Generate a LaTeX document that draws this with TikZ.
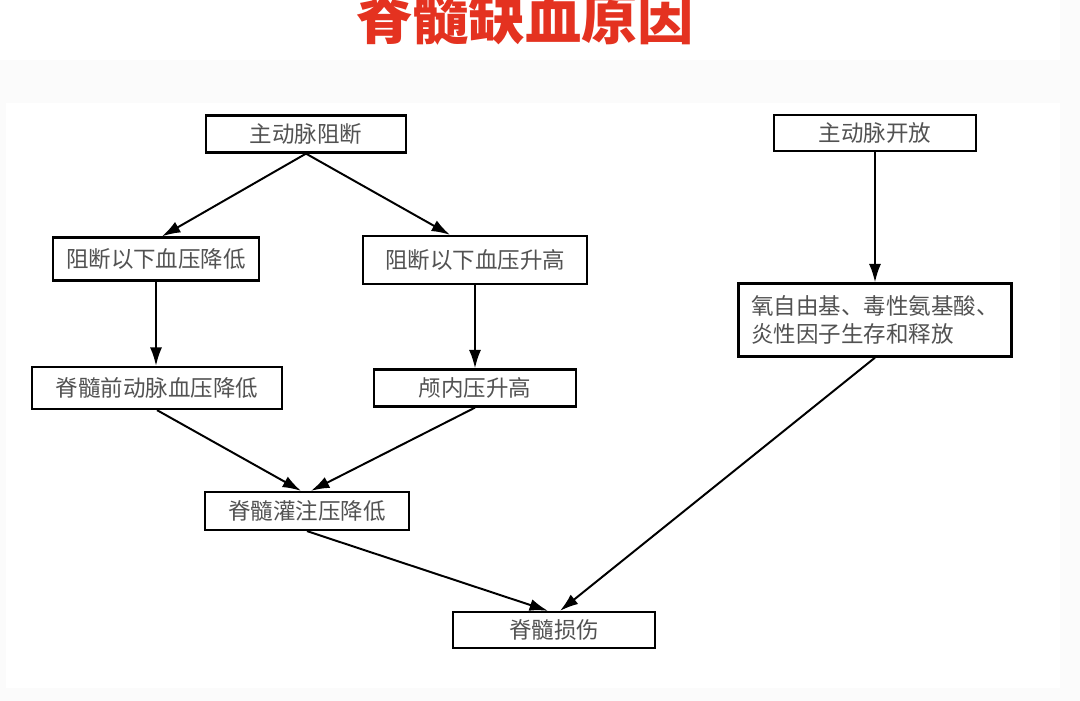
\documentclass[tikz,border=0pt]{standalone}
\usepackage{fontspec}
\setmainfont{Noto Sans CJK SC}
\usetikzlibrary{arrows.meta,positioning,calc}

\definecolor{titlered}{RGB}{228,50,32}

\begin{document}
\begin{tikzpicture}[
  x=0.025cm, y=-0.025cm,
  font=\fontsize{16}{20}\selectfont,
  box/.style={draw, line width=1.6pt, align=center, inner sep=2pt, text=black!68},
  arrow/.style={-{Latex[length=4.6mm,width=3mm]}, line width=1.4pt}
]
% page and background
\useasboundingbox (0,0) rectangle (1080,701);
\fill[gray!3] (0,0) rectangle (1080,701);
\fill[white] (0,0) rectangle (1060,60);
\fill[white] (6,103) rectangle (1060,688);

\node[text=titlered, font=\fontsize{40}{44}\selectfont\bfseries, inner sep=0pt] (title) at (525,18) {脊髓缺血原因};

% left branch
\node[box, minimum width=50mm, minimum height=9.25mm] (clamp) at (306,134) {主动脉阻断};
\node[box, minimum width=51.5mm, minimum height=10.75mm] (lowBelow) at (156,259) {阻断以下血压降低};
\node[box, minimum width=56mm, minimum height=12mm] (highBelow) at (475,260) {阻断以下血压升高};
\node[box, minimum width=62.5mm, minimum height=10.5mm] (artery) at (157,388) {脊髓前动脉血压降低};
\node[box, minimum width=50.5mm, minimum height=9.25mm] (icp) at (475,388) {颅内压升高};
\node[box, minimum width=51mm, minimum height=9.5mm] (perfusion) at (307,511) {脊髓灌注压降低};
\node[box, minimum width=50.5mm, minimum height=9mm] (injury) at (554,630) {脊髓损伤};

% right branch
\node[box, minimum width=50.5mm, minimum height=9mm] (unclamp) at (875,133) {主动脉开放};
\node[box, minimum width=68.25mm, minimum height=18.25mm, align=left] (release) at (875,320) {氧自由基、毒性氨基酸、\\炎性因子生存和释放};

\draw[arrow] (clamp.south) -- ($(lowBelow.north)+(6,0)$);
\draw[arrow] (clamp.south) -- ($(highBelow.north)+(-25,0)$);
\draw[arrow] (lowBelow.south) -- (lowBelow.south |- artery.north);
\draw[arrow] (highBelow.south) -- (highBelow.south |- icp.north);
\draw[arrow] (artery.south) -- ($(perfusion.north)+(-6,0)$);
\draw[arrow] (icp.south) -- ($(perfusion.north)+(4,0)$);
\draw[arrow] (perfusion.south) -- ($(injury.north)+(-6,0)$);
\draw[arrow] (release.south) -- ($(injury.north)+(6,0)$);
\draw[arrow] (unclamp) -- (release);
\end{tikzpicture}
\end{document}
